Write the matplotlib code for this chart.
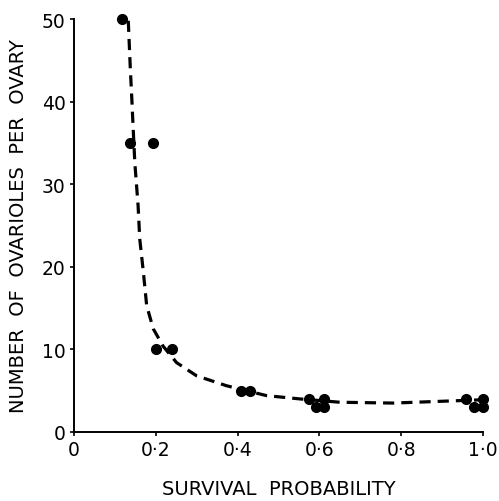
import matplotlib
matplotlib.use('Agg')
import matplotlib.pyplot as plt

# observed points
survival = [0.117, 0.137, 0.193, 0.201, 0.239, 0.408, 0.430,
            0.575, 0.611, 0.592, 0.611, 0.958, 0.999, 0.979, 1.0]
ovarioles = [50, 35, 35, 10, 10, 5, 5, 4, 4, 3, 3, 4, 4, 3, 3]

# fitted curve
curve_x = [0.133, 0.138, 0.142, 0.145, 0.149, 0.157, 0.161, 0.170, 0.178,
           0.194, 0.218, 0.251, 0.300, 0.373, 0.471, 0.553, 0.650, 0.780,
           0.944, 1.0]
curve_y = [49.8, 44.0, 40.0, 36.7, 32.6, 27.4, 23.4, 19.3, 15.3,
           12.5, 10.4, 8.4, 6.8, 5.6, 4.4, 4.0, 3.6, 3.5,
           3.8, 3.9]

xticks = [0, 0.2, 0.4, 0.6, 0.8, 1.0]
xtick_labels = ['0', '0·2', '0·4', '0·6', '0·8', '1·0']
yticks = [0, 10, 20, 30, 40, 50]

fig = plt.figure(figsize=(4.99, 5.02), dpi=100)
ax = fig.add_axes([0.148, 0.1375, 0.82, 0.8225])

ax.plot(curve_x, curve_y, color='black', linestyle=(0, (3.5, 2.2)),
        linewidth=2.3, clip_on=False)
ax.plot(survival, ovarioles, 'o', color='black', markersize=7,
        clip_on=False)

ax.set_xlim(0, 1.0)
ax.set_ylim(0, 50)
ax.set_xticks(xticks)
ax.set_xticklabels(xtick_labels)
ax.set_yticks(yticks)
for s in ['top', 'right']:
    ax.spines[s].set_visible(False)
for s in ['left', 'bottom']:
    ax.spines[s].set_linewidth(1.4)
ax.tick_params(direction='out', length=3, width=1.2, labelsize=13.5, pad=3)

ax.set_xlabel('SURVIVAL  PROBABILITY', fontsize=14, labelpad=14)
ax.set_ylabel('NUMBER  OF  OVARIOLES  PER  OVARY', fontsize=14, labelpad=10)

fig.savefig('out.png', dpi=100)
